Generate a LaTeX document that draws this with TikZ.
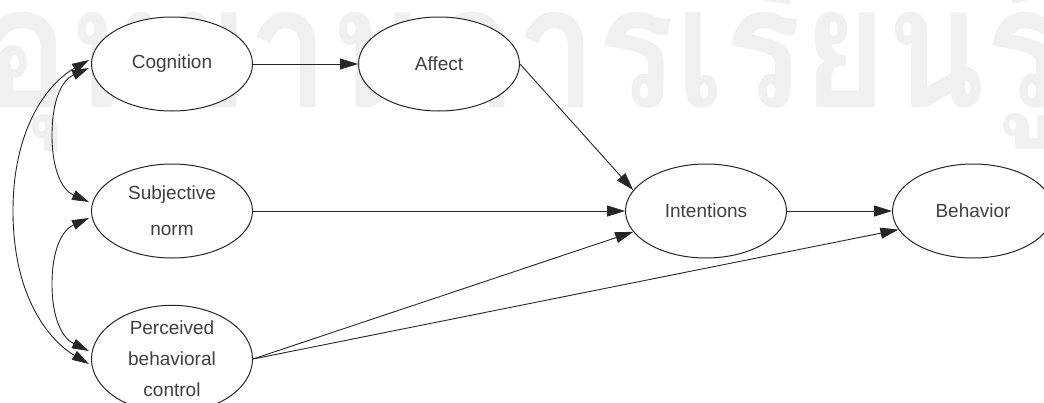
\documentclass[tikz,border=0pt]{standalone}
\usepackage{fontspec}
\setmainfont{Liberation Sans}
\newfontfamily\thaifont[Script=Thai]{Loma}
\usetikzlibrary{arrows.meta,calc,shapes.geometric}

\begin{document}
\begin{tikzpicture}[x=1pt,y=-1pt,
  construct/.style={ellipse, draw=black!85, line width=1pt, fill=white,
    minimum width=161pt, minimum height=94pt, inner sep=0pt,
    text=black!75, align=center, font=\fontsize{19}{24}\selectfont},
  link/.style={draw=black!85, line width=0.9pt,
    -{Triangle[length=18pt,width=11pt]}},
  twoway/.style={draw=black!85, line width=0.9pt,
    {Triangle[length=17pt,width=10pt]}-{Triangle[length=17pt,width=10pt]}}]

\clip (0,0) rectangle (1044,402);
\useasboundingbox (0,0) rectangle (1044,402);

% faint library mark behind the model
\node[anchor=base west, inner sep=0pt, text=black!6,
  font=\thaifont\bfseries\fontsize{170}{170}\selectfont] (mark) at (-18,107)
  {\scalebox{0.85}[1]{อุทยานการเรียนรู้}};

% constructs
\node[construct] (cog) at (172,64)  {Cognition};
\node[construct] (aff) at (439,64)  {Affect};
\node[construct, font=\fontsize{19}{36}\selectfont] (sub) at (172,211) {Subjective\\norm};
\node[construct, font=\fontsize{19}{31}\selectfont] (pbc) at (172,359) {Perceived\\behavioral\\control};
\node[construct] (int) at (706,211) {Intentions};
\node[construct] (beh) at (973,211) {Behavior};

% directed paths
\draw[link] (cog) -- (aff);
\draw[link] (aff.east) -- (int.164);
\draw[link] (sub) -- (int);
\draw[link] (pbc.east) -- (int.196);
\draw[link] (pbc.east) -- (beh.194);
\draw[link] (int) -- (beh);

% correlations among the exogenous constructs
\draw[twoway] ($(cog.west)+(-2,-4)$) .. controls (50,82) and (13,125) .. (13,211)
  .. controls (13,298) and (50,341) .. ($(pbc.west)+(-2,5)$);
\draw[twoway] ($(cog.west)+(-2,4)$) .. controls (62,80) and (52,100) .. (52,135)
  .. controls (52,170) and (62,190) .. ($(sub.west)+(-2,-9)$);
\draw[twoway] ($(sub.west)+(-2,7)$) .. controls (62,230) and (52,250) .. (52,284)
  .. controls (52,318) and (62,338) .. ($(pbc.west)+(-2,-8)$);
\end{tikzpicture}
\end{document}
